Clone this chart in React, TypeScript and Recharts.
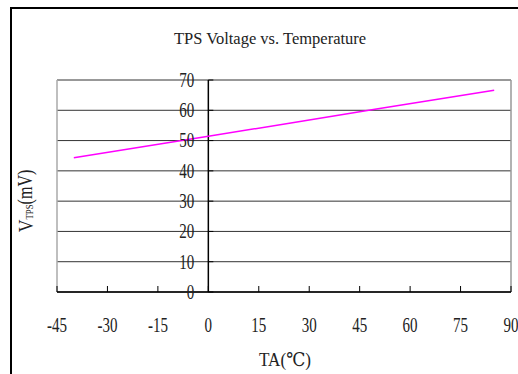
import React from "react";
import { LineChart, Line, XAxis, YAxis, CartesianGrid, ReferenceLine } from "recharts";

const temperatures = [-40, 0, 25, 50, 85];
const vtpsValues = [44.3, 51.4, 55.9, 60.4, 66.6];
const xTicks = [-45, -30, -15, 0, 15, 30, 45, 60, 75, 90];
const yTicks = [0, 10, 20, 30, 40, 50, 60, 70];

const data = temperatures.map((t, i) => ({ t, v: vtpsValues[i] }));

const W = 518;
const H = 374;
const MARGIN = { top: 80, right: 7, bottom: 81, left: 56 };
const X_MIN = xTicks[0];
const X_MAX = xTicks[xTicks.length - 1];
const PLOT_LEFT = MARGIN.left + 1;
const PLOT_W = W - PLOT_LEFT - MARGIN.right;
const ZERO_X = PLOT_LEFT + ((0 - X_MIN) / (X_MAX - X_MIN)) * PLOT_W;
const FONT = "'Liberation Serif', 'DejaVu Serif', serif";

const XTick = (props: any) => {
  const { x, y, payload } = props;
  return (
    <g>
      <line x1={x} y1={y} x2={x} y2={y - 6} stroke="#000" strokeWidth={1} />
      <text
        transform={`translate(${x},${y + 33}) scale(0.75,1)`}
        textAnchor="middle"
        dominantBaseline="central"
        fontSize={20}
        fontFamily={FONT}
        fill="#222"
      >
        {payload.value}
      </text>
    </g>
  );
};

const YTick = (props: any) => {
  const { y, payload } = props;
  return (
    <g>
      <line x1={ZERO_X} y1={y} x2={ZERO_X + 5} y2={y} stroke="#000" strokeWidth={1} />
      <text
        transform={`translate(${ZERO_X - 14},${y}) scale(0.75,1)`}
        textAnchor="end"
        dominantBaseline="central"
        fontSize={20}
        fontFamily={FONT}
        fill="#222"
      >
        {payload.value}
      </text>
    </g>
  );
};

export default function App() {
  return (
    <div style={{ position: "absolute", left: 0, top: 0, width: W, height: H, overflow: "hidden", background: "#fff" }}>
      <div
        style={{
          position: "absolute",
          left: 10,
          top: 7,
          width: 530,
          height: 400,
          borderTop: "2px solid #000",
          borderLeft: "2px solid #000",
        }}
      />
      <div style={{ position: "absolute", left: 0, top: 0 }}>
        <LineChart width={W} height={H} data={data} margin={MARGIN}>
          <CartesianGrid vertical={false} stroke="#333" strokeWidth={1} />
          <ReferenceLine x={X_MIN} stroke="#aaa" strokeWidth={1.5} />
          <ReferenceLine x={X_MAX} stroke="#999" strokeWidth={1.5} />
          <ReferenceLine x={0} stroke="#000" strokeWidth={1.5} />
          <XAxis
            dataKey="t"
            type="number"
            domain={[X_MIN, X_MAX]}
            ticks={xTicks}
            height={1}
            tickSize={0}
            tickMargin={0}
            axisLine={{ stroke: "#000", strokeWidth: 1.5 }}
            tickLine={false}
            tick={<XTick />}
            interval={0}
          />
          <YAxis
            type="number"
            domain={[0, 70]}
            ticks={yTicks}
            width={1}
            tickSize={0}
            tickMargin={0}
            axisLine={false}
            tickLine={false}
            tick={<YTick />}
            interval={0}
          />
          <Line
            type="linear"
            dataKey="v"
            stroke="#ff00ff"
            strokeWidth={1.5}
            dot={false}
            isAnimationActive={false}
          />
        </LineChart>
      </div>
      <svg width={W} height={H} style={{ position: "absolute", left: 0, top: 0, pointerEvents: "none" }}>
        <text x={270} y={38} textAnchor="middle" dominantBaseline="central" fontSize={16.5} fontFamily={FONT} fill="#222">
          TPS Voltage vs. Temperature
        </text>
        <text
          transform="translate(285,360) scale(0.9,1)"
          textAnchor="middle"
          dominantBaseline="central"
          fontSize={19}
          fontFamily={FONT}
          fill="#222"
        >
          TA(℃)
        </text>
        <text
          transform="translate(25,201) rotate(-90) scale(0.8,1)"
          textAnchor="middle"
          dominantBaseline="central"
          fontSize={20}
          fontFamily={FONT}
          fill="#222"
        >
          <tspan fontSize={22}>V</tspan>
          <tspan fontSize={11} dy={4}>TPS</tspan>
          <tspan dy={-4}>(mV)</tspan>
        </text>
      </svg>
    </div>
  );
}
